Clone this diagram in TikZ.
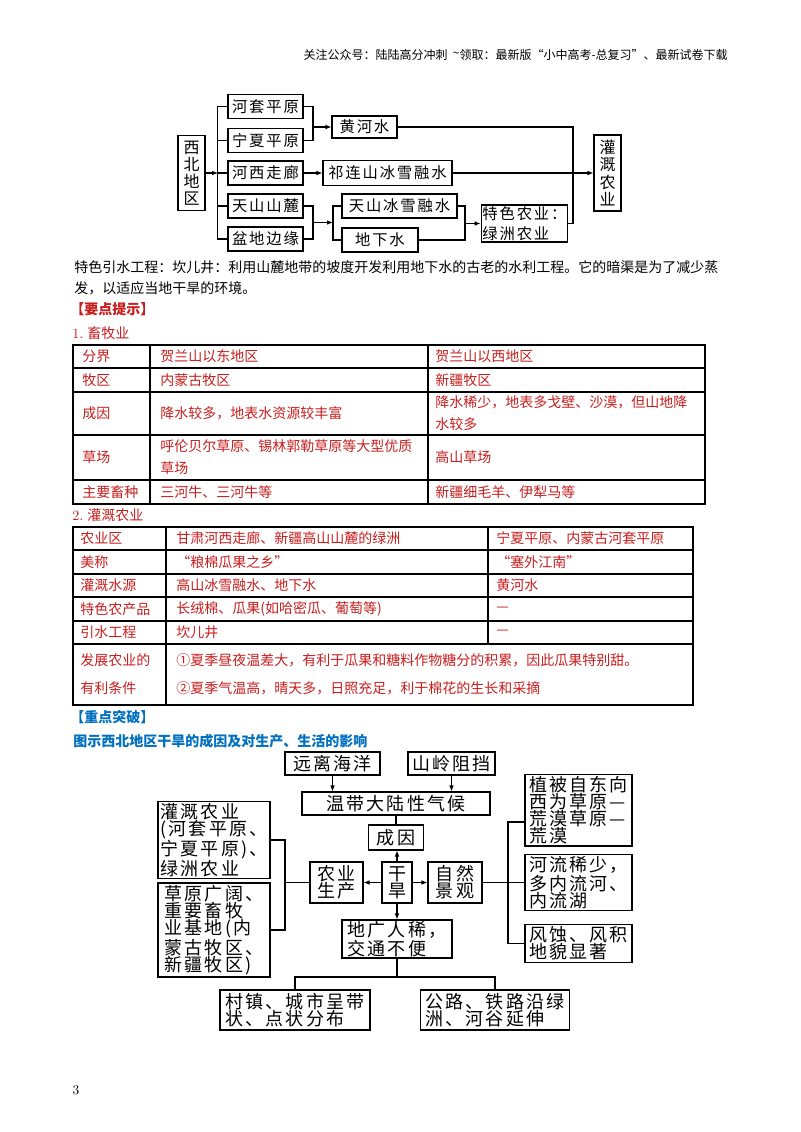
\documentclass[tikz,border=0pt]{standalone}
\usepackage{fontspec}
\usepackage{xcolor}
\usepackage{tikz}
\usetikzlibrary{arrows.meta, positioning, calc}
\newfontfamily\cjk{Noto Sans CJK SC}
\newfontfamily\cjkwide[LetterSpace=12]{Noto Sans CJK SC}
\definecolor{notered}{RGB}{200,30,30}
\definecolor{noteblue}{RGB}{0,112,192}

\begin{document}
\begin{tikzpicture}[
    x=0.75pt, y=-0.75pt,
    font=\cjk\fontsize{10.5}{16.5}\selectfont,
    >={Latex[length=4.5pt,width=3.5pt]},
    boxwh/.style 2 args={minimum width=#1*0.75pt, minimum height=#2*0.75pt},
    flowbox/.style={draw, line width=0.8pt, inner sep=1pt, align=center,
        font=\cjkwide\fontsize{11.5}{13}\selectfont},
    bigbox/.style={draw, line width=0.8pt, inner sep=1.5pt, align=left,
        font=\cjkwide\fontsize{13.5}{12.8}\selectfont},
    wire/.style={line width=0.8pt},
    tabline/.style={line width=0.9pt},
    plain/.style={anchor=west, inner sep=0pt, align=left},
    cell/.style={plain, text=notered},
    redhead/.style={plain, text=notered, font=\cjk\bfseries\fontsize{10.5}{13}\selectfont},
    bluehead/.style={plain, text=noteblue, font=\cjk\bfseries\fontsize{10.5}{13}\selectfont}
]

% ---------- page ----------
\fill[white] (0,0) rectangle (800,1132);
\useasboundingbox (0,0) rectangle (800,1132);
\node[anchor=east, inner sep=0pt, font=\cjk\fontsize{9}{11}\selectfont] (header) at (728,55)
    {关注公众号：陆陆高分冲刺\ \ \raisebox{0.3ex}{\textasciitilde}领取：最新版“小中高考-总复习”、最新试卷下载};

% ---------- top diagram: boxes ----------
\node[flowbox, boxwh={27}{75}, font=\cjk\fontsize{12}{12.8}\selectfont] (xibei) at (191.5,173) {西\\北\\地\\区};
\foreach \name/\txt/\yy in {hetao/河套平原/106.5, ningxia/宁夏平原/140.5, hexi/河西走廊/173,
                            tianshan/天山山麓/206, pendi/盆地边缘/239}{
    \node[flowbox, boxwh={75}{24}] (\name) at (265.5,\yy) {\txt};
}
\node[flowbox, boxwh={65}{22}] (huanghe) at (364.5,127) {黄河水};
\node[flowbox, boxwh={129}{25}] (qilian) at (387.5,173) {祁连山冰雪融水};
\node[flowbox, boxwh={115}{24}] (tsbx) at (399.5,206) {天山冰雪融水};
\node[flowbox, boxwh={76}{24}] (dxs) at (380,240) {地下水};
\node[flowbox, boxwh={85}{37}, align=left, font=\cjkwide\fontsize{11.5}{15}\selectfont] (tese) at (524.5,223.5) {特色农业：\\绿洲农业};
\node[flowbox, boxwh={27}{76}, font=\cjk\fontsize{12}{12.8}\selectfont] (guangai) at (607.5,173) {灌\\溉\\农\\业};

% ---------- top diagram: connectors ----------
\coordinate (busL) at (218,173);
\coordinate (j1) at (313,127);
\coordinate (j2) at (313,222.5);
\coordinate (j3) at (333,222.5);
\coordinate (j4) at (465,223.5);
\coordinate (j5) at (573,173);
\draw[wire,->] (xibei.east) -- (busL);
\draw[wire] (hetao.west) -- ++(-10,0) |- (pendi.west);
\foreach \name in {ningxia, hexi, tianshan}{
    \draw[wire] (\name.west) -- ++(-10,0);
}
\draw[wire] (hetao.east) -| (j1) |- (ningxia.east);
\draw[wire,->] (j1) -- (huanghe.west);
\draw[wire,->] (hexi.east) -- (qilian.west);
\draw[wire] (tianshan.east) -| (j2) |- (pendi.east);
\draw[wire,->] (j2) -- (j3);
\draw[wire] (tsbx.west) -| (j3) |- (dxs.west);
\draw[wire] (tsbx.east) -| (j4) |- (dxs.east);
\draw[wire,->] (j4) -- (tese.west);
\draw[wire] (huanghe.east) -| (j5) |- (tese.east);
\draw[wire,->] (qilian.east) -- (guangai.west);

% ---------- paragraph ----------
\node[plain] (para1) at (74,267) {特色引水工程：坎儿井：利用山麓地带的坡度开发利用地下水的古老的水利工程。它的暗渠是为了减少蒸};
\node[plain] (para2) at (74,288) {发，以适应当地干旱的环境。};
\node[redhead] (keyhint) at (70,309) {【要点提示】};
\node[cell] (sec1) at (72,333) {{\rmfamily 1.} 畜牧业};

% ---------- table 1 ----------
\draw[tabline] (73,345) rectangle (705,504);
\foreach \yy in {368,392,435,480}{
    \draw[tabline] (73,\yy) -- (705,\yy);
}
\foreach \xx in {150,428}{
    \draw[tabline] (\xx,345) -- (\xx,504);
}
\foreach \yy/\ta/\tb/\tc in {356/分界/贺兰山以东地区/贺兰山以西地区,
                             380/牧区/内蒙古牧区/新疆牧区,
                             492/主要畜种/三河牛、三河牛等/新疆细毛羊、伊犁马等}{
    \node[cell] at (82,\yy) {\ta};
    \node[cell] at (160,\yy) {\tb};
    \node[cell] at (435,\yy) {\tc};
}
\node[cell] (cy1) at (82,413) {成因};
\node[cell] (cy2) at (160,413) {降水较多，地表水资源较丰富};
\node[cell] (cy3) at (435,413) {降水稀少，地表多戈壁、沙漠，但山地降\\水较多};
\node[cell] (cc1) at (82,457) {草场};
\node[cell] (cc2) at (160,457) {呼伦贝尔草原、锡林郭勒草原等大型优质\\草场};
\node[cell] (cc3) at (435,457) {高山草场};

% ---------- table 2 ----------
\node[cell] (sec2) at (72,515) {{\rmfamily 2.} 灌溉农业};
\draw[tabline] (73,527) rectangle (693,705);
\foreach \yy in {550,574,597,621,644}{
    \draw[tabline] (73,\yy) -- (693,\yy);
}
\draw[tabline] (166,527) -- (166,705);
\draw[tabline] (488,527) -- (488,644);
\foreach \yy/\ta/\tb/\tc in {538/农业区/甘肃河西走廊、新疆高山山麓的绿洲/宁夏平原、内蒙古河套平原,
                             562/美称/“粮棉瓜果之乡”/“塞外江南”,
                             585/灌溉水源/高山冰雪融水、地下水/黄河水,
                             609/特色农产品/长绒棉、瓜果(如哈密瓜、葡萄等)/—,
                             632/引水工程/坎儿井/—}{
    \node[cell] at (80,\yy) {\ta};
    \node[cell] at (176,\yy) {\tb};
    \node[cell] at (496,\yy) {\tc};
}
\node[cell, font=\cjk\fontsize{10.5}{21}\selectfont] (fz1) at (80,674) {发展农业的\\有利条件};
\node[cell, font=\cjk\fontsize{10.5}{21}\selectfont] (fz2) at (176,674)
    {①夏季昼夜温差大，有利于瓜果和糖料作物糖分的积累，因此瓜果特别甜。\\②夏季气温高，晴天多，日照充足，利于棉花的生长和采摘};

% ---------- headings ----------
\node[bluehead] (focus) at (70,717) {【重点突破】};
\node[bluehead] (title) at (73,741) {图示西北地区干旱的成因及对生产、生活的影响};

% ---------- bottom diagram: boxes ----------
\node[bigbox, boxwh={95}{23}] (yuanli) at (332.5,763.5) {远离海洋};
\node[bigbox, boxwh={87}{23}] (shanling) at (451.5,763.5) {山岭阻挡};
\node[bigbox, boxwh={188}{23}] (wendai) at (396,803.5) {温带大陆性气候};
\node[bigbox, boxwh={55}{25}] (chengyin) at (396,837.5) {成因};
\node[bigbox, boxwh={30}{41}, inner sep=1pt] (ganhan) at (397,882.5) {干\\旱};
\node[bigbox, boxwh={53}{41}, inner sep=1pt] (nongye) at (336.5,882.5) {农业\\生产};
\node[bigbox, boxwh={54}{41}, inner sep=1pt] (ziran) at (455,882.5) {自然\\景观};
\node[bigbox, boxwh={110}{38}, inner sep=1pt] (diguang) at (397,939) {地广人稀，\\交通不便};
\node[bigbox, boxwh={150}{40}] (cunzhen) at (295,1010) {村镇、城市呈带\\状、点状分布};
\node[bigbox, boxwh={149}{40}] (gonglu) at (495,1010) {公路、铁路沿绿\\洲、河谷延伸};
\node[bigbox, boxwh={112}{70}] (lbox1) at (214,840) {灌溉农业\\(河套平原、\\宁夏平原)、\\绿洲农业};
\node[bigbox, boxwh={112}{94}] (lbox2) at (214,930) {草原广阔、\\重要畜牧\\业基地(内\\蒙古牧区、\\新疆牧区)};
\node[bigbox, boxwh={107}{70}] (rbox1) at (578.5,810) {植被自东向\\西为草原—\\荒漠草原—\\荒漠};
\node[bigbox, boxwh={107}{45}] (rbox2) at (578.5,882.5) {河流稀少，\\多内流河、\\内流湖};
\node[bigbox, boxwh={107}{37}] (rbox3) at (578.5,943.5) {风蚀、风积\\地貌显著};

% ---------- bottom diagram: connectors ----------
\coordinate (lbus) at (285,882.5);
\coordinate (rbus) at (508,882.5);
\coordinate (split) at (397,977);
\draw[wire,->] (yuanli.south) -- (yuanli.south |- wendai.north);
\draw[wire,->] (shanling.south) -- (shanling.south |- wendai.north);
\draw[wire] (wendai.south) -- (wendai.south |- chengyin.north);
\draw[wire,->] (ganhan.north) -- (ganhan.north |- chengyin.south);
\draw[wire,->] (ganhan.west) -- (nongye.east);
\draw[wire,->] (ganhan.east) -- (ziran.west);
\draw[wire,->] (ganhan.south) -- (ganhan.south |- diguang.north);
\draw[wire] (diguang.south) -- (split);
\draw[wire] (cunzhen.north) |- (split) -| (gonglu.north);
\draw[wire] (nongye.west) -- (lbus);
\draw[wire] (lbox1.east) -| (lbus) |- (lbox2.east);
\draw[wire] (ziran.east) -- (rbox2.west);
\draw[wire] ($(rbox1.west)+(0,12)$) -| (rbus) |- (rbox3.west);

% ---------- page number ----------
\node[font=\rmfamily\fontsize{10}{12}\selectfont] (pagenum) at (76,1090) {3};

\end{tikzpicture}
\end{document}
